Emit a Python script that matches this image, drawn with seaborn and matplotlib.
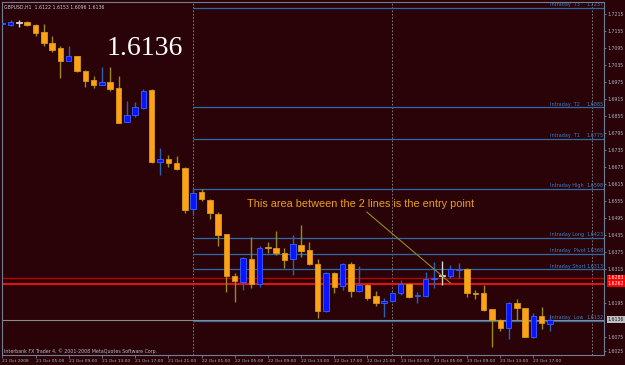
import numpy as np
import pandas as pd
import matplotlib
matplotlib.use("Agg")
import matplotlib.pyplot as plt
import matplotlib.transforms as mtransforms
import seaborn as sns

# ---------------- data (GBPUSD H1) ----------------
opens = [1.7179, 1.7175, 1.7184, 1.7186, 1.7175, 1.7150, 1.7114, 1.7095, 1.7050, 1.7067,
         1.7014, 1.6982, 1.6965, 1.6976, 1.6954, 1.6835, 1.6858, 1.6884, 1.6946, 1.6694,
         1.6702, 1.6690, 1.6672, 1.6526, 1.6586, 1.6558, 1.6509, 1.6437, 1.6291, 1.6270,
         1.6351, 1.6262, 1.6389, 1.6390, 1.6370, 1.6349, 1.6400, 1.6382, 1.6331, 1.6168,
         1.6300, 1.6255, 1.6333, 1.6237, 1.6258, 1.6220, 1.6194, 1.6202, 1.6229, 1.6262,
         1.6220, 1.6220, 1.6280, 1.6290, 1.6290, 1.6311, 1.6315, 1.6231, 1.6229, 1.6174,
         1.6135, 1.6106, 1.6194, 1.6178, 1.6074, 1.6149, 1.6122]
highs = [1.7197, 1.7194, 1.7194, 1.7189, 1.7180, 1.7179, 1.7137, 1.7102, 1.7102, 1.7067,
         1.7017, 1.6996, 1.7027, 1.7029, 1.6996, 1.6908, 1.6903, 1.6949, 1.6949, 1.6742,
         1.6717, 1.6714, 1.6676, 1.6601, 1.6596, 1.6562, 1.6517, 1.6437, 1.6300, 1.6358,
         1.6429, 1.6394, 1.6411, 1.6449, 1.6388, 1.6435, 1.6470, 1.6411, 1.6349, 1.6305,
         1.6305, 1.6337, 1.6341, 1.6325, 1.6262, 1.6237, 1.6211, 1.6235, 1.6276, 1.6264,
         1.6235, 1.6305, 1.6341, 1.6344, 1.6329, 1.6337, 1.6317, 1.6241, 1.6258, 1.6174,
         1.6137, 1.6199, 1.6208, 1.6178, 1.6158, 1.6182, 1.6153]
lows = [1.7177, 1.7173, 1.7170, 1.7174, 1.7138, 1.7100, 1.7082, 1.6990, 1.7047, 1.7010,
        1.6958, 1.6955, 1.6963, 1.6944, 1.6829, 1.6833, 1.6852, 1.6881, 1.6688, 1.6647,
        1.6676, 1.6664, 1.6511, 1.6505, 1.6556, 1.6490, 1.6394, 1.6235, 1.6199, 1.6241,
        1.6247, 1.6252, 1.6370, 1.6364, 1.6317, 1.6294, 1.6358, 1.6329, 1.6141, 1.6164,
        1.6229, 1.6241, 1.6217, 1.6235, 1.6205, 1.6184, 1.6146, 1.6199, 1.6223, 1.6211,
        1.6194, 1.6215, 1.6247, 1.6258, 1.6282, 1.6282, 1.6215, 1.6208, 1.6168, 1.6041,
        1.6094, 1.6068, 1.6135, 1.6074, 1.6070, 1.6102, 1.6096]
closes = [1.7180, 1.7186, 1.7184, 1.7175, 1.7149, 1.7112, 1.7088, 1.7049, 1.7067, 1.7013,
          1.6979, 1.6964, 1.6975, 1.6951, 1.6831, 1.6858, 1.6888, 1.6943, 1.6694, 1.6703,
          1.6688, 1.6667, 1.6523, 1.6584, 1.6561, 1.6511, 1.6435, 1.6290, 1.6273, 1.6353,
          1.6262, 1.6388, 1.6388, 1.6370, 1.6347, 1.6402, 1.6379, 1.6333, 1.6168, 1.6302,
          1.6252, 1.6333, 1.6238, 1.6258, 1.6211, 1.6194, 1.6202, 1.6229, 1.6261, 1.6215,
          1.6221, 1.6280, 1.6284, 1.6290, 1.6314, 1.6314, 1.6229, 1.6226, 1.6170, 1.6135,
          1.6108, 1.6196, 1.6176, 1.6074, 1.6149, 1.6123, 1.6136]

date_tick_bars = [0, 4, 8, 12, 16, 20, 24, 28, 32, 36, 40, 44, 48, 52, 56, 60, 64]
date_tick_labels = ["21 Oct 2008", "21 Oct 05:00", "21 Oct 09:00", "21 Oct 13:00",
                    "21 Oct 17:00", "21 Oct 21:00", "22 Oct 01:00", "22 Oct 05:00",
                    "22 Oct 09:00", "22 Oct 13:00", "22 Oct 17:00", "22 Oct 21:00",
                    "23 Oct 01:00", "23 Oct 05:00", "23 Oct 09:00", "23 Oct 13:00",
                    "23 Oct 17:00"]
day_separator_bars = [23, 47, 71]

price_ticks = [1.7215, 1.7155, 1.7095, 1.7035, 1.6975, 1.6915, 1.6855, 1.6795, 1.6735,
               1.6675, 1.6615, 1.6555, 1.6495, 1.6435, 1.6375, 1.6315, 1.6195, 1.6075,
               1.6025]
price_tick_labels = ["1.7215", "1.7155", "1.7095", "1.7035", "1.6975", "1.6915", "1.6855",
                     "1.6795", "1.6735", "1.6675", "1.6615", "1.6555", "1.6495", "1.6435",
                     "1.6375", "1.6315", "1.6195", "1.6075", "1.6025"]

level_names = ["Intraday  T3", "Intraday  T2", "Intraday  T1", "Intraday High",
               "Intraday Long", "Intraday  Pivot", "Intraday Short", "Intraday  Low"]
level_values = [1.7237, 1.6885, 1.6775, 1.6598, 1.6423, 1.6368, 1.6313, 1.6132]
level_labels = ["1.7237", "1.6885", "1.6775", "1.6598", "1.6423", "1.6368", "1.6313", "1.6132"]

entry_lines = [1.6283, 1.6262]
entry_labels = ["1.6283", "1.6262"]
bid_price = 1.6136
bid_label = "1.6136"
arrow_bars = [43.9, 54.0]
arrow_prices = [1.6516, 1.6265]

header = "GBPUSD,H1  1.6122 1.6153 1.6096 1.6136"
note = "This area between the 2 lines is the entry point"
copyright_txt = "Interbank FX Trader 4, \u00a9 2001-2008 MetaQuotes Software Corp."

# ---------------- style ----------------
BG = "#2a0309"
FRAME = "#6f7f96"
TXT = "#aab2c0"
LEVEL = "#2e6aa6"
LEVEL_TXT = "#3d7cc0"

sns.set_theme(style="dark", rc={"axes.facecolor": BG, "figure.facecolor": BG,
                                "axes.edgecolor": FRAME, "axes.linewidth": 0.8})
plt.rcParams["font.family"] = ["DejaVu Sans"]

df = pd.DataFrame({"bar": np.arange(len(opens)), "open": opens, "high": highs,
                   "low": lows, "close": closes})
up = df["close"] > df["open"]
down = df["close"] < df["open"]
body_col = np.where(up, "#0a14ff", np.where(down, "#ffa21a", "#d8d8d8"))
edge_col = np.where(up, "#3a62ff", np.where(down, "#d79a12", "#d8d8d8"))
wick_col = np.where(up, "#2d5fb0", np.where(down, "#9a8a1c", "#d8d8d8"))

fig = plt.figure(figsize=(6.25, 3.65), dpi=100)
ax = fig.add_axes([2 / 625, 10 / 365, 602 / 625, 353 / 365])
ax.set_xlim(-0.04, 72.5)
ax.set_ylim(1.6011, 1.7257)

# separators
for b in day_separator_bars:
    ax.axvline(b, color="#8c8c8c", lw=0.6, ls=(0, (2, 2)), zorder=1)

# level lines
ax.hlines(level_values, day_separator_bars[0], 72.5, color=LEVEL, lw=0.9, zorder=1)
trans = mtransforms.blended_transform_factory(ax.transAxes, ax.transData)
for name, val, lab in zip(level_names, level_values, level_labels):
    ax.text(0.910, val + 0.0003, name, transform=trans, fontsize=3.5, color=LEVEL_TXT,
            va="bottom", ha="left", zorder=2)
    ax.text(0.9995, val + 0.0003, lab, transform=trans, fontsize=3.5, color=LEVEL_TXT,
            va="bottom", ha="right", zorder=2)

# entry zone lines and bid line
ax.axhline(entry_lines[0], color="#b80000", lw=1.0, zorder=1)
ax.axhline(entry_lines[1], color="#ff1010", lw=1.3, zorder=1)
ax.axhline(bid_price, color="#8a8a8a", lw=0.8, zorder=1)

# candles
ax.vlines(df["bar"], df["low"], df["high"], colors=wick_col, lw=1.0, zorder=2)
height = np.maximum((df["close"] - df["open"]).abs(), 0.00035)
bottom = np.minimum(df["open"], df["close"])
ax.bar(df["bar"], height, bottom=bottom, width=0.66, color=body_col,
       edgecolor=edge_col, linewidth=0.6, zorder=3)

# arrow line
sns.lineplot(x=arrow_bars, y=arrow_prices, ax=ax, color="#8c8c1c", lw=0.8, zorder=4)

# axes ticks
ax.yaxis.tick_right()
ax.set_yticks(price_ticks)
ax.set_yticklabels(price_tick_labels)
ax.set_xticks(date_tick_bars)
ax.set_xticklabels(date_tick_labels, ha="left")
ax.tick_params(axis="y", right=True, left=False, length=1.5, width=0.6, color=FRAME,
               labelsize=3.3, labelcolor=TXT, pad=0.8)
ax.tick_params(axis="x", bottom=True, length=2, width=0.6, color=FRAME,
               labelsize=3.2, labelcolor=TXT, pad=1)
ax.grid(False)
ax.set_xlabel("")
ax.set_ylabel("")

# right-side price boxes
for val, lab, fc in zip(entry_lines, entry_labels, ["#ff0000", "#ff0000"]):
    ax.text(1.006, val, lab, transform=trans, fontsize=3.3, color="white", va="center",
            ha="left", clip_on=False, zorder=6,
            bbox=dict(boxstyle="square,pad=0.15", fc=fc, ec="none"))
ax.text(1.006, bid_price, bid_label, transform=trans, fontsize=3.3, color="#202020",
        va="center", ha="left", clip_on=False, zorder=6,
        bbox=dict(boxstyle="square,pad=0.15", fc="#c0c0c0", ec="none"))

# texts
fig.text(4 / 625, 1 - 7 / 365, header, fontsize=3.3, color="#c8c8d0", va="center", ha="left")
fig.text(107 / 625, 1 - 55 / 365, "1.6136", fontsize=20, color="white",
         family=["Liberation Serif", "DejaVu Serif"], va="baseline", ha="left")
fig.text(247 / 625, 1 - 204 / 365, note, fontsize=7.8, color="#eea010",
         family=["Liberation Sans", "DejaVu Sans"], va="center", ha="left")
fig.text(4 / 625, 1 - 351 / 365, copyright_txt, fontsize=3.4, color="#b8b8c0",
         va="center", ha="left")

fig.savefig("out.png", dpi=100, facecolor=BG)
